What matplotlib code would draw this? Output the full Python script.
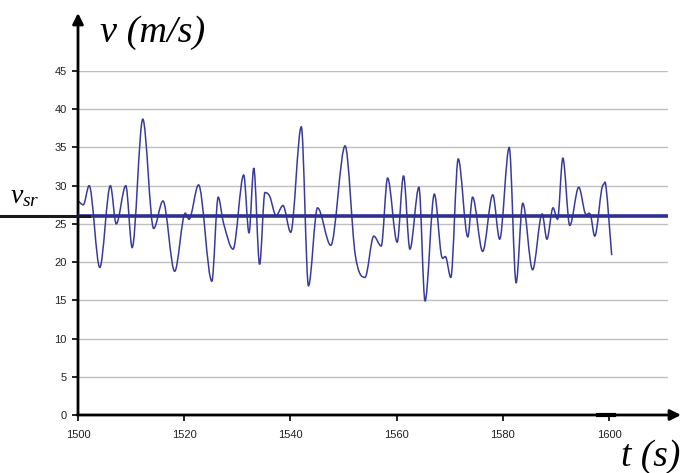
import numpy as np
import matplotlib
matplotlib.use("Agg")
import matplotlib.pyplot as plt
from matplotlib.path import Path
from matplotlib.patches import PathPatch
from matplotlib.lines import Line2D

# ---- data ----
time_s = [1500.0, 1501.0, 1502.1, 1504.1, 1506.1, 1507.2, 1509.0, 1510.2, 1512.2, 1514.25,
          1516.0, 1518.2, 1520.2, 1520.9, 1522.7, 1525.2, 1526.4, 1527.4, 1529.2, 1531.2,
          1532.2, 1533.1, 1534.2, 1535.2, 1536.1, 1537.3, 1538.6, 1540.05, 1542.05, 1543.4,
          1545.1, 1547.6, 1550.3, 1552.2, 1554.05, 1555.7, 1557.1, 1558.3, 1560.1, 1561.3,
          1562.5, 1564.2, 1565.35, 1567.1, 1568.4, 1569.3, 1570.2, 1571.6, 1573.4, 1574.3,
          1576.2, 1578.1, 1579.4, 1581.2, 1582.5, 1583.75, 1585.6, 1587.4, 1588.3, 1589.45,
          1590.3, 1591.3, 1592.6, 1594.3, 1595.5, 1596.5, 1597.3, 1598.9, 1599.4, 1600.5]
speed = [28.0, 27.5, 30.0, 19.3, 30.0, 25.0, 30.0, 21.9, 38.7, 24.4,
         28.0, 18.8, 26.4, 25.6, 30.1, 17.5, 28.5, 25.1, 21.7, 31.4,
         23.8, 32.3, 19.7, 29.1, 28.6, 26.1, 27.4, 23.9, 37.7, 16.9,
         27.1, 22.2, 35.2, 21.0, 18.0, 23.4, 22.1, 31.0, 22.6, 31.3,
         21.7, 29.8, 14.9, 28.9, 21.0, 20.6, 18.0, 33.5, 23.3, 28.5,
         21.4, 28.8, 23.0, 35.0, 17.3, 27.7, 19.0, 26.3, 23.0, 27.1,
         25.6, 33.6, 24.8, 29.8, 26.4, 26.2, 23.4, 30.1, 30.0, 20.9]
v_mean = 26.0
x_ticks = [1500, 1520, 1540, 1560, 1580, 1600]
y_ticks = [0, 5, 10, 15, 20, 25, 30, 35, 40, 45]

W, H = 683, 473
fig = plt.figure(figsize=(W / 100, H / 100), dpi=100)
ax = fig.add_axes([78 / W, 58 / H, 590 / W, 344 / H])
ax.set_xlim(1500, 1611.1)
ax.set_ylim(0, 45)

for s in ax.spines.values():
    s.set_visible(False)

ax.set_yticks(y_ticks)
ax.set_xticks(x_ticks)
ax.yaxis.grid(True, color="#BFBFBF", lw=1.0)
ax.set_axisbelow(True)
ax.tick_params(axis="both", direction="out", length=4, width=1.2, color="black",
               labelsize=8, labelcolor="#222222")
ax.tick_params(axis="y", pad=4)
ax.tick_params(axis="x", pad=7)
for lab in ax.get_xticklabels() + ax.get_yticklabels():
    lab.set_fontfamily("Liberation Sans")


def smooth_path(t, y):
    t = np.asarray(t, float)
    y = np.asarray(y, float)
    n = len(t)
    m = np.zeros(n)
    for i in range(n):
        if i == 0:
            m[i] = (y[1] - y[0]) / (t[1] - t[0])
        elif i == n - 1:
            m[i] = (y[-1] - y[-2]) / (t[-1] - t[-2])
        elif (y[i] - y[i - 1]) * (y[i + 1] - y[i]) <= 0:
            m[i] = 0.0
        else:
            m[i] = (y[i + 1] - y[i - 1]) / (t[i + 1] - t[i - 1])
    verts = [(t[0], y[0])]
    codes = [Path.MOVETO]
    for i in range(n - 1):
        h = t[i + 1] - t[i]
        verts += [(t[i] + h / 3, y[i] + m[i] * h / 3),
                  (t[i + 1] - h / 3, y[i + 1] - m[i + 1] * h / 3),
                  (t[i + 1], y[i + 1])]
        codes += [Path.CURVE4] * 3
    return Path(verts, codes)


assert len(time_s) == len(speed)
ax.add_patch(PathPatch(smooth_path(time_s, speed), fill=False,
                       edgecolor="#383B9C", lw=1.1, zorder=3))

# mean line
ax.axhline(v_mean, color="#2E3192", lw=2.6, zorder=4)
ypix = 58 + v_mean / 45 * 344
fig.add_artist(Line2D([0, 89 / W], [ypix / H, ypix / H], color="#1a1a1a", lw=2.2,
                      transform=fig.transFigure, zorder=5))

# axes arrows
ax.annotate("", xy=(78, H - 13), xytext=(78, 58), xycoords="figure pixels",
            textcoords="figure pixels",
            arrowprops=dict(arrowstyle="-|>", lw=2, color="black",
                            mutation_scale=16, shrinkA=0, shrinkB=0))
ax.annotate("", xy=(681, 58), xytext=(77, 58), xycoords="figure pixels",
            textcoords="figure pixels",
            arrowprops=dict(arrowstyle="-|>", lw=2, color="black",
                            mutation_scale=16, shrinkA=0, shrinkB=0))
ax.plot([1598.0, 1601.0], [0, 0], color="black", lw=3, clip_on=False, zorder=6)

# labels
plt.rcParams["mathtext.fontset"] = "custom"
plt.rcParams["mathtext.it"] = "Liberation Serif:italic"
plt.rcParams["mathtext.rm"] = "Liberation Serif"
fig.text(100 / W, (H - 42) / H, "v (m/s)", family="Liberation Serif", style="italic",
         fontsize=27.5, ha="left", va="baseline")
fig.text(621 / W, (H - 466) / H, "t (s)", family="Liberation Serif", style="italic",
         fontsize=27, ha="left", va="baseline")
fig.text(10 / W, (H - 203) / H, r"$v_{sr}$", fontsize=20, ha="left", va="baseline")

fig.savefig("out.png", dpi=100)
